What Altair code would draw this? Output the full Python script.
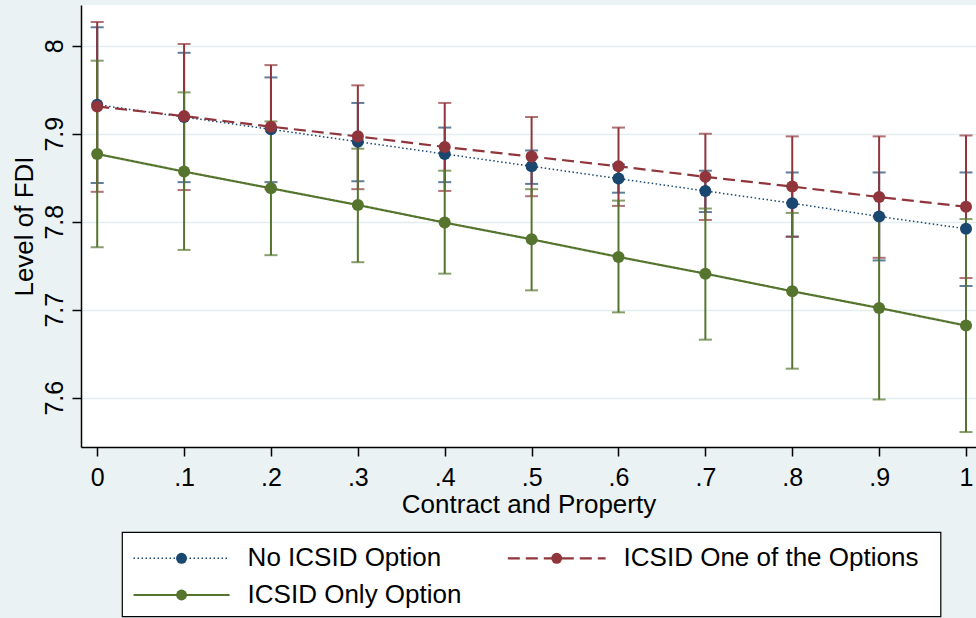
import json

import altair as alt
import pandas as pd

# Predicted level of FDI over the contract-and-property index, by ICSID arrangement
contract_property = [0.0, 0.1, 0.2, 0.3, 0.4, 0.5, 0.6, 0.7, 0.8, 0.9, 1.0]
x_tick_labels = ["0", ".1", ".2", ".3", ".4", ".5", ".6", ".7", ".8", ".9", "1"]
y_ticks = [7.6, 7.7, 7.8, 7.9, 8.0]
y_tick_labels = ["7.6", "7.7", "7.8", "7.9", "8"]

series_names = ["No ICSID Option", "ICSID One of the Options", "ICSID Only Option"]

no_icsid_margin = [7.933, 7.919, 7.905, 7.891, 7.877, 7.863, 7.849, 7.835, 7.821, 7.806, 7.792]
no_icsid_lower = [7.844, 7.845, 7.845, 7.846, 7.845, 7.843, 7.833, 7.811, 7.783, 7.756, 7.727]
no_icsid_upper = [8.021, 7.992, 7.964, 7.935, 7.907, 7.881, 7.865, 7.858, 7.856, 7.856, 7.856]

one_of_margin = [7.931, 7.920, 7.908, 7.897, 7.885, 7.874, 7.863, 7.851, 7.840, 7.828, 7.817]
one_of_lower = [7.834, 7.836, 7.837, 7.837, 7.835, 7.829, 7.818, 7.802, 7.783, 7.759, 7.736]
one_of_upper = [8.027, 8.002, 7.978, 7.955, 7.935, 7.919, 7.907, 7.900, 7.897, 7.897, 7.898]

only_margin = [7.877, 7.857, 7.838, 7.819, 7.799, 7.780, 7.760, 7.741, 7.721, 7.702, 7.682]
only_lower = [7.771, 7.768, 7.762, 7.754, 7.741, 7.722, 7.697, 7.666, 7.633, 7.598, 7.561]
only_upper = [7.983, 7.947, 7.914, 7.883, 7.858, 7.837, 7.824, 7.815, 7.810, 7.806, 7.803]

FONT = "Liberation Sans"
NAVY, MAROON, FOREST = "#1a476f", "#90353b", "#55752f"

styles = [
    {"color": NAVY, "dash": [1.5, 2.5], "width": 1.5},
    {"color": MAROON, "dash": [12, 6], "width": 2.2},
    {"color": FOREST, "dash": [1, 0], "width": 2.2},
]
series_values = [
    (no_icsid_margin, no_icsid_lower, no_icsid_upper),
    (one_of_margin, one_of_lower, one_of_upper),
    (only_margin, only_lower, only_upper),
]

frames = [
    pd.DataFrame({"x": contract_property, "margin": m, "lo": lo, "hi": hi})
    for (m, lo, hi) in series_values
]

x_scale = alt.Scale(domain=[-0.01865, 1.0115], nice=False, zero=False)
y_scale = alt.Scale(domain=[7.544, 8.0463], nice=False, zero=False)

x_axis = alt.Axis(
    values=contract_property,
    labelExpr=json.dumps(x_tick_labels) + "[round(datum.value * 10)]",
    grid=False,
    domainColor="black", domainWidth=1.5,
    tickColor="black", tickSize=9, tickWidth=1.5,
    labelFont=FONT, labelFontSize=25, labelColor="black", labelPadding=9,
    labelAngle=0,
    title="Contract and Property",
    titleFont=FONT, titleFontSize=26, titleFontWeight="normal", titleColor="black",
    titlePadding=1,
)
y_axis = alt.Axis(
    values=y_ticks,
    labelExpr=json.dumps(y_tick_labels) + "[round((datum.value - 7.6) * 10)]",
    grid=True, gridColor="#e4edf0", gridWidth=1.5,
    domainColor="black", domainWidth=1.5,
    tickColor="black", tickSize=9, tickWidth=1.5,
    labelFont=FONT, labelFontSize=25, labelColor="black",
    labelAngle=270, labelAlign="center", labelBaseline="alphabetic", labelPadding=10,
    title="Level of FDI",
    titleFont=FONT, titleFontSize=26, titleFontWeight="normal", titleColor="black",
    titlePadding=5,
)


def xenc():
    return alt.X("x:Q", scale=x_scale, axis=x_axis)


def yenc(field):
    return alt.Y(f"{field}:Q", scale=y_scale, axis=y_axis)


layers = []

# confidence intervals: spike plus caps
for df, st in zip(frames, styles):
    base = alt.Chart(df)
    layers.append(
        base.mark_rule(color=st["color"], strokeWidth=2).encode(
            x=xenc(), y=yenc("lo"), y2="hi:Q"
        )
    )
    for end in ("lo", "hi"):
        layers.append(
            base.mark_tick(
                color=st["color"], orient="horizontal", size=13, thickness=2
            ).encode(x=xenc(), y=yenc(end))
        )

# connected margins
for df, st in zip(frames, styles):
    base = alt.Chart(df)
    layers.append(
        base.mark_line(
            color=st["color"], strokeWidth=st["width"], strokeDash=st["dash"]
        ).encode(x=xenc(), y=yenc("margin"))
    )
    layers.append(
        base.mark_point(
            filled=True, shape="circle", size=145, opacity=1,
            color=st["color"], strokeWidth=0,
        ).encode(x=xenc(), y=yenc("margin"))
    )

# legend box below the plot
one = pd.DataFrame({"k": [0]})
layers.append(
    alt.Chart(one).mark_rect(fill="white", stroke="black", strokeWidth=1.2).encode(
        x=alt.value(41.3), x2=alt.value(859.8), y=alt.value(527.3), y2=alt.value(611.7)
    )
)
slots = [(52.5, 148.6, 553.3), (426.8, 524.6, 553.3), (52.5, 148.6, 590.0)]
for name, st, (x0, x1, yy) in zip(series_names, styles, slots):
    layers.append(
        alt.Chart(one).mark_rule(
            color=st["color"], strokeWidth=st["width"], strokeDash=st["dash"]
        ).encode(x=alt.value(x0), x2=alt.value(x1), y=alt.value(yy))
    )
    layers.append(
        alt.Chart(one).mark_point(
            filled=True, shape="circle", size=120, opacity=1,
            color=st["color"], strokeWidth=0,
        ).encode(x=alt.value((x0 + x1) / 2), y=alt.value(yy))
    )
    layers.append(
        alt.Chart(one).mark_text(
            text=name, align="left", baseline="middle",
            font=FONT, fontSize=26, color="black",
        ).encode(x=alt.value(x1 + 18), y=alt.value(yy))
    )

chart = (
    alt.layer(*layers)
    .properties(
        width=895,
        height=442,
        padding={"left": 81, "top": 5, "right": 0, "bottom": 171},
        autosize=alt.AutoSizeParams(type="none"),
        background="#eaf2f3",
    )
    .configure(font=FONT)
    .configure_view(fill="white", strokeWidth=0)
)

chart.save("out.html", embed_options={"renderer": "svg", "actions": False})
